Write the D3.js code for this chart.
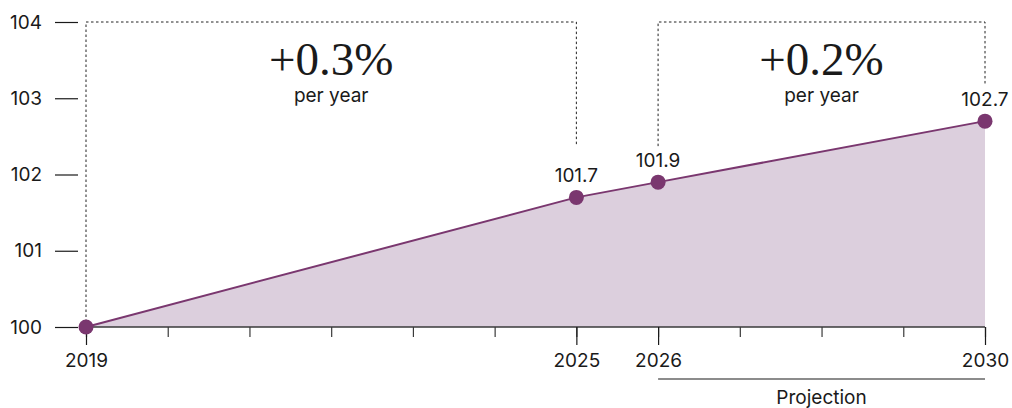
<!DOCTYPE html>
<html>
<head>
<meta charset="utf-8">
<script src="https://cdn.jsdelivr.net/npm/d3@7"></script>
<style>
  html, body { margin: 0; padding: 0; background: #fff; }
  svg { display: block; }
  text { font-family: Inter, "Noto Sans", sans-serif; fill: #1a1a1a; }
</style>
</head>
<body>
<svg id="chart" width="1012" height="408"></svg>
<script>
// Index values (2019 = 100), markers and annotations
const years = [2019, 2025, 2026, 2030];
const values = [100, 101.7, 101.9, 102.7];
const valueLabels = ["", "101.7", "101.9", "102.7"];
const yTicks = [100, 101, 102, 103, 104];
const xLabelYears = [2019, 2025, 2026, 2030];
const allYears = d3.range(2019, 2031);
const rateLabels = ["+0.3%", "+0.2%"];
const ratePeriods = [[2019, 2025], [2026, 2030]];
const projectionRange = [2026, 2030];

const svg = d3.select("#chart");
const x = d3.scaleLinear().domain([2019, 2030]).range([86, 985]);
const y = d3.scaleLinear().domain([100, 104]).range([327, 22]);

const lineColor = "#7a376f";
const fillColor = "#dccfdd";

// Area under the index line
const pts = years.map((yr, i) => ({ yr, v: values[i] }));
svg.append("path")
  .datum(pts)
  .attr("fill", fillColor)
  .attr("d", d3.area().x(d => x(d.yr)).y0(y(100)).y1(d => y(d.v)));

// Y axis: short tick marks with labels, no domain line
const yAxis = svg.append("g").attr("transform", "translate(78,0)")
  .call(d3.axisLeft(y).tickValues(yTicks).tickSize(23).tickPadding(13).tickFormat(d3.format("d")));
yAxis.select(".domain").remove();
yAxis.selectAll(".tick line").attr("stroke", "#1a1a1a").attr("stroke-width", 1.2);
yAxis.selectAll("text").style("font-size", "19px").attr("fill", "#1a1a1a").attr("dy", "0.32em");

// X axis: minor ticks for every year
const xAxis = svg.append("g").attr("transform", `translate(0,${y(100)})`)
  .call(d3.axisBottom(x).tickValues(allYears).tickSize(10).tickFormat(""));
xAxis.select(".domain").attr("stroke", "#3a3a3a").attr("stroke-width", 1.5).attr("d", `M${x(2019)},0H${x(2030)}`);
xAxis.selectAll(".tick line").attr("stroke", "#3a3a3a").attr("stroke-width", 1.2);

// Longer labelled ticks
const xMajor = svg.append("g").attr("transform", `translate(0,${y(100)})`)
  .call(d3.axisBottom(x).tickValues(xLabelYears).tickSize(18).tickPadding(9).tickFormat(d3.format("d")));
xMajor.select(".domain").remove();
xMajor.selectAll(".tick line").attr("stroke", "#1a1a1a").attr("stroke-width", 1.2);
xMajor.selectAll("text").style("font-size", "19px").attr("fill", "#1a1a1a");

// Dotted brackets for the growth-rate periods
const dash = "2.5,2.5";
const bracketTop = y(104);
const bracketEnds = [
  [y(100), y(101.7) - 52],
  [y(101.9) - 36, y(102.7) - 36]
];
ratePeriods.forEach((p, i) => {
  const [a, b] = p;
  const [ya, yb] = bracketEnds[i];
  svg.append("path")
    .attr("d", `M${x(a)},${ya}V${bracketTop}H${x(b)}V${yb}`)
    .attr("fill", "none").attr("stroke", "#222").attr("stroke-width", 1)
    .attr("stroke-dasharray", dash);
  const cx = (x(a) + x(b)) / 2;
  svg.append("text").attr("x", cx).attr("y", 75).attr("text-anchor", "middle")
    .style("font-family", "'Liberation Serif', 'DejaVu Serif', serif")
    .style("font-size", "47px").text(rateLabels[i]);
  svg.append("text").attr("x", cx).attr("y", 102).attr("text-anchor", "middle")
    .style("font-size", "19px").text("per year");
});

// Index line and markers
svg.append("path")
  .datum(pts)
  .attr("fill", "none").attr("stroke", lineColor).attr("stroke-width", 2)
  .attr("d", d3.line().x(d => x(d.yr)).y(d => y(d.v)));

svg.selectAll("circle.pt").data(pts).join("circle")
  .attr("class", "pt")
  .attr("cx", d => x(d.yr)).attr("cy", d => y(d.v)).attr("r", 7.5)
  .attr("fill", lineColor);

svg.selectAll("text.val").data(pts).join("text")
  .attr("class", "val")
  .attr("x", d => x(d.yr)).attr("y", d => y(d.v) - 15)
  .attr("text-anchor", "middle").style("font-size", "19px")
  .text((d, i) => valueLabels[i]);

// Projection bracket under the axis
svg.append("line")
  .attr("x1", x(projectionRange[0])).attr("x2", x(projectionRange[1]))
  .attr("y1", 379).attr("y2", 379)
  .attr("stroke", "#1a1a1a").attr("stroke-width", 1.2);
svg.append("text")
  .attr("x", (x(projectionRange[0]) + x(projectionRange[1])) / 2).attr("y", 404)
  .attr("text-anchor", "middle").style("font-size", "19px").text("Projection");
</script>
</body>
</html>
